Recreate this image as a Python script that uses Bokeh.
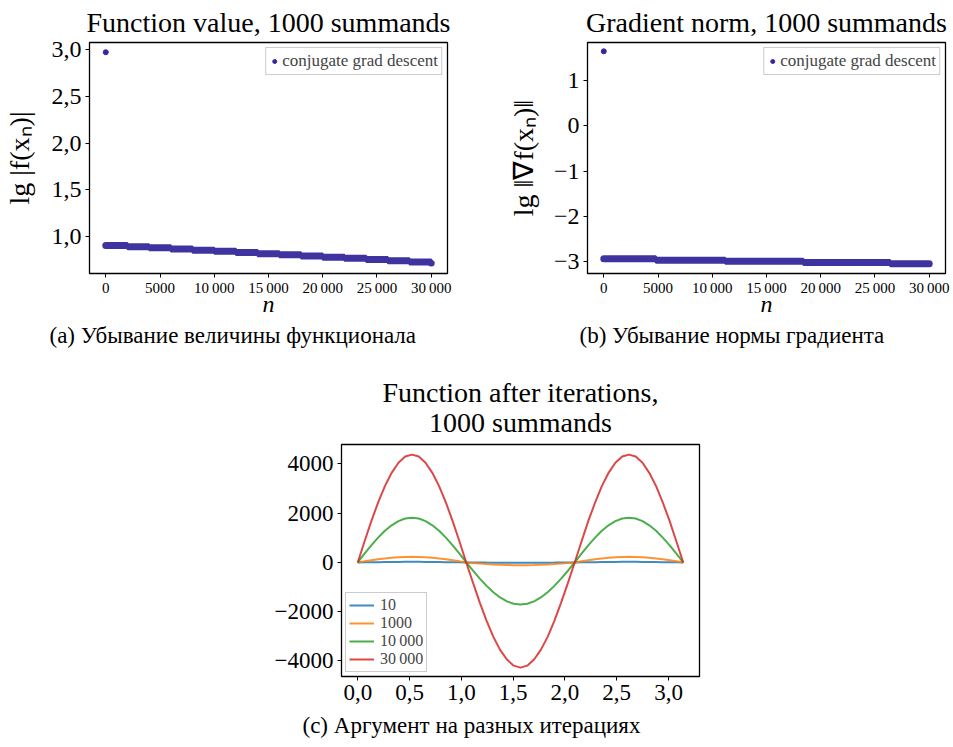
from bokeh.plotting import figure
from bokeh.models import Range1d, FixedTicker, Legend, LegendItem, Title, Spacer
from bokeh.layouts import column, row
from bokeh.embed import file_html
from bokeh.resources import INLINE

FONT = "Liberation Serif"
PURPLE = "#35299a"

# ---------------- data ----------------
# (a) lg|f(x_n)| : first iterate, then a slowly decreasing staircase
a_first_n = [0]
a_first_v = [2.97]
a_step_n = [0, 2000, 4000, 6000, 8000, 10000, 12000, 14000, 16000, 18000, 20000, 22000, 24000,
            26000, 28000, 30000]
a_step_v = [0.905, 0.893, 0.880, 0.868, 0.855, 0.843, 0.830, 0.818, 0.805, 0.793, 0.780, 0.768,
            0.755, 0.743, 0.730, 0.718]

# (b) lg||grad f(x_n)||
b_first_n = [0]
b_first_v = [1.645]
b_step_n = [0, 4800, 11200, 18400, 26400, 30000]
b_step_v = [-2.941, -2.971, -2.993, -3.022, -3.051, -3.051]

# (c) function after iterations
c_x = [0.000, 0.065, 0.131, 0.196, 0.262, 0.327, 0.393, 0.458, 0.524, 0.589, 0.654, 0.720, 0.785,
       0.851, 0.916, 0.982, 1.047, 1.113, 1.178, 1.244, 1.309, 1.374, 1.440, 1.505, 1.571, 1.636,
       1.702, 1.767, 1.833, 1.898, 1.963, 2.029, 2.094, 2.160, 2.225, 2.291, 2.356, 2.421, 2.487,
       2.553, 2.618, 2.683, 2.749, 2.814, 2.880, 2.945, 3.011, 3.076, 3.142]
c_10 = [0, 5, 10, 14, 18, 21, 23, 25, 25, 25, 23, 21, 18, 14, 10, 5, 0, -2, -4, -6, -7, -8, -9, -10,
        -10, -10, -9, -8, -7, -6, -4, -2, 0, 5, 10, 14, 18, 21, 23, 25, 25, 25, 23, 21, 18, 14, 10, 5, 0]
c_1000 = [0, 45, 88, 128, 163, 191, 213, 226, 230, 226, 213, 191, 163, 128, 88, 45, 0, -21, -42, -61,
          -78, -91, -102, -108, -110, -108, -102, -91, -78, -61, -42, -21, 0, 45, 88, 128, 163, 191,
          213, 226, 230, 226, 213, 191, 163, 128, 88, 45, 0]
c_10000 = [0, 355, 695, 1010, 1285, 1510, 1680, 1785, 1820, 1785, 1680, 1510, 1285, 1010, 695, 355, 0,
           -335, -655, -950, -1210, -1420, -1580, -1675, -1710, -1675, -1580, -1420, -1210, -950, -655,
           -335, 0, 355, 695, 1010, 1285, 1510, 1680, 1785, 1820, 1785, 1680, 1510, 1285, 1010, 695, 355, 0]
c_30000 = [0, 850, 1680, 2430, 3100, 3640, 4050, 4300, 4380, 4300, 4050, 3640, 3100, 2430, 1680, 850, 0,
           -830, -1630, -2370, -3020, -3550, -3940, -4190, -4270, -4190, -3940, -3550, -3020, -2370,
           -1630, -830, 0, 850, 1680, 2430, 3100, 3640, 4050, 4300, 4380, 4300, 4050, 3640, 3100, 2430,
           1680, 850, 0]
c_labels = ["10", "1000", "10\u2009000", "30\u2009000"]
c_colors = ["#1f77b4", "#ff7f0e", "#2ca02c", "#d62728"]

n_ticks = [0, 5000, 10000, 15000, 20000, 25000, 30000]
n_tick_labels = ["0", "5000", "10\u2009000", "15\u2009000", "20\u2009000", "25\u2009000", "30\u2009000"]
a_ticks = [1.0, 1.5, 2.0, 2.5, 3.0]
a_tick_labels = ["1,0", "1,5", "2,0", "2,5", "3,0"]
b_ticks = [-3, -2, -1, 0, 1]
b_tick_labels = ["\u22123", "\u22122", "\u22121", "0", "1"]
c_xticks = [0.0, 0.5, 1.0, 1.5, 2.0, 2.5, 3.0]
c_xtick_labels = ["0,0", "0,5", "1,0", "1,5", "2,0", "2,5", "3,0"]
c_yticks = [-4000, -2000, 0, 2000, 4000]
c_ytick_labels = ["\u22124000", "\u22122000", "0", "2000", "4000"]


def style(p, title, title_standoff):
    p.title.text = title
    p.title.align = "center"
    p.title.text_font = FONT
    p.title.text_font_size = "28px"
    p.title.text_font_style = "normal"
    p.title.text_color = "black"
    p.title.standoff = title_standoff
    p.outline_line_color = "black"
    p.outline_line_width = 1.3
    p.outline_line_alpha = 1
    p.xgrid.visible = False
    p.ygrid.visible = False
    p.background_fill_color = "white"
    p.border_fill_color = "white"
    for ax in (p.xaxis[0], p.yaxis[0]):
        ax.axis_line_color = None
        ax.major_tick_out = 4
        ax.major_tick_in = 0
        ax.minor_tick_out = 0
        ax.minor_tick_in = 0
        ax.major_tick_line_color = "black"
        ax.major_label_text_font = FONT
        ax.major_label_text_color = "black"
        ax.axis_label_text_font = FONT
        ax.axis_label_text_font_style = "normal"
        ax.axis_label_text_color = "black"
        ax.major_label_standoff = 4


def caption(p, text, offset, standoff):
    t = Title(text=text, align="left", offset=offset, text_font=FONT, text_font_size="23px",
              text_font_style="normal", text_color="black", standoff=standoff)
    p.add_layout(t, "below")


def make_top(n0, v0, sn, sv, yr, ticks, tick_labels, ylabel, title, cap, width, left, right, cap_off,
             ylab_standoff):
    p = figure(width=width, height=363, x_range=Range1d(-1500, 31500), y_range=Range1d(*yr),
               output_backend="svg", toolbar_location=None,
               min_border_left=left, min_border_right=right, min_border_top=41, min_border_bottom=90)
    style(p, title, 9)
    p.step(sn, sv, mode="after", line_width=7, line_color=PURPLE, line_cap="round", line_alpha=0.95)
    r0 = p.scatter(n0, v0, size=5, color=PURPLE)
    p.xaxis.ticker = FixedTicker(ticks=n_ticks)
    p.xaxis.major_label_overrides = dict(zip(n_ticks, n_tick_labels))
    p.xaxis.major_label_text_font_size = "15px"
    p.xaxis.major_label_standoff = 2
    p.xaxis.axis_label = "n"
    p.xaxis.axis_label_text_font_style = "italic"
    p.xaxis.axis_label_text_font_size = "24px"
    p.xaxis.axis_label_standoff = -8
    p.yaxis.ticker = FixedTicker(ticks=ticks)
    p.yaxis.major_label_overrides = dict(zip(ticks, tick_labels))
    p.yaxis.major_label_text_font_size = "24px"
    p.yaxis.axis_label = ylabel
    p.yaxis.axis_label_text_font_size = "28px"
    p.yaxis.axis_label_standoff = ylab_standoff
    leg = Legend(items=[LegendItem(label="conjugate grad descent", renderers=[r0])],
                 location="top_right", label_text_font=FONT, label_text_font_size="17px",
                 padding=3, spacing=0, margin=5, glyph_width=10, glyph_height=12, label_height=12,
                 label_standoff=3, border_line_color="#9a9a9a", border_line_width=1.3,
                 background_fill_alpha=1)
    p.add_layout(leg)
    caption(p, cap, cap_off, 3)
    return p


pa = make_top(a_first_n, a_first_v, a_step_n, a_step_v, (0.606, 3.074), a_ticks, a_tick_labels,
              "lg |f(x\u2099)|", "Function value, 1000 summands",
              "(a) Убывание величины функционала", 473, 88, 26, -40, 14)
pb = make_top(b_first_n, b_first_v, b_step_n, b_step_v, (-3.265, 1.84), b_ticks, b_tick_labels,
              "lg \u2016\u2207f(x\u2099)\u2016", "Gradient norm, 1000 summands",
              "(b) Убывание нормы градиента", 480, 114, 8, -8, 12)

pc = figure(width=520, height=382, x_range=Range1d(-0.157, 3.299), y_range=Range1d(-4630, 4790),
            output_backend="svg", toolbar_location=None,
            min_border_left=101, min_border_right=61, min_border_top=81, min_border_bottom=69)
style(pc, "Function after iterations,", -20)
pc.add_layout(Title(text="1000 summands", align="center", text_font=FONT,
                    text_font_size="28px", text_font_style="normal", text_color="black",
                    standoff=14), "above")
items = []
for ys, lab, col in zip([c_10, c_1000, c_10000, c_30000], c_labels, c_colors):
    r = pc.line(c_x, ys, line_color=col, line_width=2, line_alpha=0.85)
    items.append(LegendItem(label=lab, renderers=[r]))
pc.xaxis.ticker = FixedTicker(ticks=c_xticks)
pc.xaxis.major_label_overrides = dict(zip(c_xticks, c_xtick_labels))
pc.xaxis.major_label_text_font_size = "23px"
pc.yaxis.ticker = FixedTicker(ticks=c_yticks)
pc.yaxis.major_label_overrides = dict(zip(c_yticks, c_ytick_labels))
pc.yaxis.major_label_text_font_size = "23px"
legc = Legend(items=items, location="bottom_left", label_text_font=FONT, label_text_font_size="16px",
              padding=3, spacing=0, margin=4, glyph_width=25, glyph_height=16, label_height=16,
              label_standoff=6, border_line_color="#9a9a9a", border_line_width=1.3,
              background_fill_alpha=1)
pc.add_layout(legc)
caption(pc, "(c) Аргумент на разных итерациях", -39, 16)

layout = column(row(pa, pb), row(Spacer(width=240, height=382), pc))

with open("out.html", "w") as f:
    f.write(file_html(layout, INLINE))
